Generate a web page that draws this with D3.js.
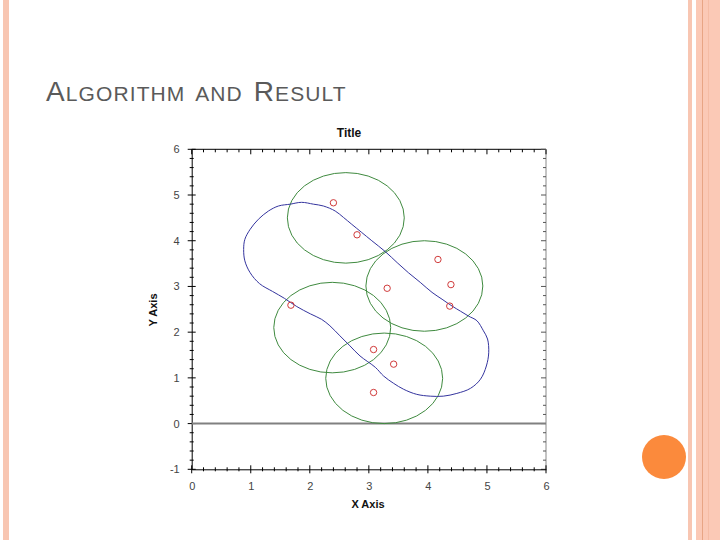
<!DOCTYPE html>
<html>
<head>
<meta charset="utf-8">
<script src="https://cdn.jsdelivr.net/npm/d3@7"></script>
<style>
html,body{margin:0;padding:0;background:#fff;}
svg{display:block;}
</style>
</head>
<body>
<svg id="chart" width="720" height="540"></svg>
<script>
// ---------- data ----------
const slideTitleParts = [["A", true], ["LGORITHM AND ", false], ["R", true], ["ESULT", false]];
const chartTitle = "Title";
const xAxisTitle = "X Axis";
const yAxisTitle = "Y Axis";
const xTickValues = [0, 1, 2, 3, 4, 5, 6];
const yTickValues = [-1, 0, 1, 2, 3, 4, 5, 6];
const xDomain = [0, 6];
const yDomain = [-1, 6];

// red sample points
const pointX = [2.40, 2.80, 4.17, 4.39, 3.31, 4.37, 1.68, 3.08, 3.42, 3.08];
const pointY = [4.83, 4.13, 3.59, 3.04, 2.96, 2.57, 2.59, 1.62, 1.30, 0.68];

// green circles (centre, radius)
const circleX = [2.61, 3.94, 2.38, 3.26];
const circleY = [4.50, 3.01, 2.10, 0.99];
const circleR = [0.99, 0.99, 0.99, 0.99];

// blue closed boundary curve
const curveX = [1.67, 1.86, 2.06, 2.23, 2.43, 2.57, 2.71, 2.88, 3.05, 3.28, 3.48, 3.67, 3.87, 4.07, 4.24, 4.41, 4.55, 4.69, 4.83, 4.94, 5.01, 5.03, 4.99, 4.89, 4.72, 4.49, 4.26, 4.04, 3.81, 3.59, 3.42, 3.25, 3.11, 2.85, 2.68, 2.51, 2.34, 2.20, 2.01, 1.78, 1.57, 1.37, 1.15, 0.99, 0.90, 0.88, 0.90, 0.99, 1.13, 1.30, 1.47];
const curveY = [4.80, 4.84, 4.80, 4.76, 4.65, 4.51, 4.36, 4.18, 4.00, 3.76, 3.52, 3.30, 3.09, 2.87, 2.72, 2.57, 2.46, 2.35, 2.25, 2.03, 1.85, 1.55, 1.26, 0.97, 0.77, 0.66, 0.60, 0.60, 0.64, 0.75, 0.88, 1.04, 1.23, 1.48, 1.70, 1.92, 2.14, 2.28, 2.40, 2.56, 2.74, 2.89, 3.06, 3.30, 3.56, 3.81, 4.03, 4.25, 4.47, 4.65, 4.76];

// ---------- drawing ----------
(function () {
const svg = d3.select("#chart");

// slide decorations
svg.append("rect").attr("x", 3).attr("y", 0).attr("width", 6).attr("height", 540).attr("fill", "#f8c6b2");
svg.append("rect").attr("x", 688).attr("y", 0).attr("width", 4).attr("height", 540).attr("fill", "#f8c6b2");
svg.append("rect").attr("x", 696).attr("y", 0).attr("width", 24).attr("height", 540).attr("fill", "#fbc9b6");
svg.append("rect").attr("x", 702).attr("y", 0).attr("width", 1).attr("height", 540).attr("fill", "#e8a585");
svg.append("rect").attr("x", 708).attr("y", 0).attr("width", 1).attr("height", 540).attr("fill", "#f5bca5");
svg.append("circle").attr("cx", 664).attr("cy", 457).attr("r", 22).attr("fill", "#fb8a3c");

// slide title with small caps
const st = svg.append("text").attr("x", 46).attr("y", 101)
  .attr("font-family", "Liberation Sans, Arial, sans-serif").attr("fill", "#5a5a5a")
  .attr("letter-spacing", 1.1).attr("word-spacing", 4);
slideTitleParts.forEach(([t, big]) => {
  st.append("tspan").attr("font-size", big ? 28 : 21).text(t);
});

// plot area
const pL = 191.7, pR = 546, pT = 149.3, pB = 469.3;
const x = d3.scaleLinear().domain(xDomain).range([pL, pR]);
const y = d3.scaleLinear().domain(yDomain).range([pB, pT]);

const axisFont = "Liberation Sans, Arial, sans-serif";
const fmt = d => String(d);

// frame lines
svg.append("line").attr("x1", pL).attr("x2", pR).attr("y1", pT).attr("y2", pT).attr("stroke", "#000");
svg.append("line").attr("x1", pR).attr("x2", pR).attr("y1", pT).attr("y2", pB).attr("stroke", "#888");

// minor tick values
const xMinor = d3.range(0, 6.001, 0.2).map(v => +v.toFixed(2));
const yMinor = d3.range(-1, 6.001, 0.2).map(v => +v.toFixed(2));

// top ticks (inward)
svg.append("g").selectAll("line").data(xMinor).join("line")
  .attr("x1", d => x(d)).attr("x2", d => x(d))
  .attr("y1", pT).attr("y2", d => pT + (Number.isInteger(d) ? 5 : 3))
  .attr("stroke", "#000");
// right ticks (inward)
svg.append("g").selectAll("line").data(yMinor).join("line")
  .attr("x1", pR).attr("x2", d => pR - (Number.isInteger(d) ? 5 : 3))
  .attr("y1", d => y(d)).attr("y2", d => y(d))
  .attr("stroke", "#555");

// bottom axis
const xAxisG = svg.append("g").attr("transform", `translate(0,${pB})`)
  .call(d3.axisBottom(x).tickValues(xTickValues).tickFormat(fmt).tickSize(0).tickPadding(13));
xAxisG.select(".domain").attr("stroke", "#000");
xAxisG.selectAll("text").attr("font-family", axisFont).attr("font-size", 11).attr("fill", "#444");
svg.append("g").selectAll("line").data(xMinor).join("line")
  .attr("x1", d => x(d)).attr("x2", d => x(d))
  .attr("y1", d => pB - (Number.isInteger(d) ? 4 : 2))
  .attr("y2", d => pB + (Number.isInteger(d) ? 4 : 2))
  .attr("stroke", "#000");

// left axis
const yAxisG = svg.append("g").attr("transform", `translate(${pL},0)`)
  .call(d3.axisLeft(y).tickValues(yTickValues).tickFormat(fmt).tickSize(0).tickPadding(12));
yAxisG.select(".domain").attr("stroke", "#000");
yAxisG.selectAll("text").attr("font-family", axisFont).attr("font-size", 11).attr("fill", "#444");
svg.append("g").selectAll("line").data(yMinor).join("line")
  .attr("x1", d => pL - (Number.isInteger(d) ? 4 : 2))
  .attr("x2", d => pL + (Number.isInteger(d) ? 4 : 2))
  .attr("y1", d => y(d)).attr("y2", d => y(d))
  .attr("stroke", "#000");

// zero line
svg.append("line").attr("x1", x(0)).attr("x2", x(6)).attr("y1", y(0)).attr("y2", y(0))
  .attr("stroke", "#808080").attr("stroke-width", 2);

// green circles
svg.append("g").selectAll("ellipse").data(circleX.map((cx, i) => ({cx, cy: circleY[i], r: circleR[i]})))
  .join("ellipse")
  .attr("cx", d => x(d.cx)).attr("cy", d => y(d.cy))
  .attr("rx", d => x(d.r) - x(0)).attr("ry", d => y(0) - y(d.r))
  .attr("fill", "none").attr("stroke", "#3f8a3f").attr("stroke-width", 1);

// blue boundary
const curvePts = curveX.map((cx, i) => [cx, curveY[i]]);
svg.append("path").datum(curvePts)
  .attr("d", d3.line().x(d => x(d[0])).y(d => y(d[1])).curve(d3.curveCatmullRomClosed))
  .attr("fill", "none").attr("stroke", "#34349e").attr("stroke-width", 1);

// red points
svg.append("g").selectAll("circle").data(pointX.map((px, i) => [px, pointY[i]]))
  .join("circle")
  .attr("cx", d => x(d[0])).attr("cy", d => y(d[1])).attr("r", 3.2)
  .attr("fill", "none").attr("stroke", "#d03a3a").attr("stroke-width", 1);

// titles
svg.append("text").attr("x", 349).attr("y", 137).attr("text-anchor", "middle")
  .attr("font-family", axisFont).attr("font-weight", "bold").attr("font-size", 12).attr("fill", "#111").text(chartTitle);
svg.append("text").attr("x", 368).attr("y", 508).attr("text-anchor", "middle")
  .attr("font-family", axisFont).attr("font-weight", "bold").attr("font-size", 11).attr("fill", "#111").text(xAxisTitle);
svg.append("text").attr("transform", "translate(157,310) rotate(-90)").attr("text-anchor", "middle")
  .attr("font-family", axisFont).attr("font-weight", "bold").attr("font-size", 11).attr("fill", "#111").text(yAxisTitle);
})();
</script>
</body>
</html>
